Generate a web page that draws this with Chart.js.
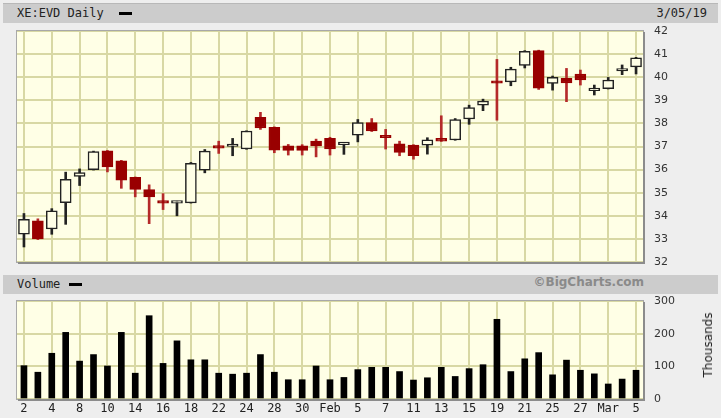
<!DOCTYPE html>
<html>
<head>
<meta charset="utf-8">
<script src="https://cdn.jsdelivr.net/npm/chart.js@4"></script>
<style>
  body { margin: 0; width: 721px; height: 418px; overflow: hidden; background: #eeeeee; position: relative; font-family: 'DejaVu Sans Mono', monospace; }
  .bar { position: absolute; left: 3px; width: 715px; height: 19px; background: #cccccc; line-height: 19px; font-size: 12px; color: #222; }
  .bar span { position: absolute; top: 0; }
  .key { position: absolute; width: 13px; height: 3px; background: #000; }
  canvas { position: absolute; left: 0; }
  #thousands { position: absolute; left: 708px; top: 345px; transform: translate(-50%, -50%) rotate(-90deg); font: 12px 'DejaVu Sans', sans-serif; color: #222; white-space: nowrap; }
</style>
</head>
<body>
<div class="bar" style="top:3px; border-top:1px solid #b8b8b8;">
  <span style="left:14px;">XE:EVD Daily</span>
  <div class="key" style="left:116px; top:8px;"></div>
  <span style="right:11px;">3/05/19</span>
</div>
<div class="bar" style="top:275px;">
  <span style="left:14px;">Volume</span>
  <div class="key" style="left:66px; top:8px;"></div>
  <span style="right:74px; font: bold 12px 'DejaVu Sans', sans-serif; color:#8a8a8a;">©BigCharts.com</span>
</div>
<canvas id="priceChart" width="721" height="272" style="top:0;"></canvas>
<canvas id="volumeChart" width="721" height="125" style="top:293px;"></canvas>
<div id="thousands">Thousands</div>

<script>
// trading days, Jan 2 - Mar 5 2019
const dates = ['2','3','4','7','8','9','10','11','14','15','16','17','18','21','22','23','24','25','28','29','30','31',
  'Feb','4','5','6','7','8','11','12','13','14','15','18','19','20','21','22','25','26','27','28',
  'Mar','4','5'];

const open  = [33.20,33.78,33.43,34.57,35.71,36.00,36.81,36.38,35.66,35.14,34.58,34.55,34.56,35.98,36.97,37.00,36.89,38.26,37.83,37.03,37.03,37.23,37.35,
  37.08,37.49,38.04,37.42,37.12,37.06,37.06,37.35,37.28,38.19,38.79,39.78,39.80,40.51,41.15,39.73,39.95,40.14,39.42,39.50,40.27,40.45];
const high  = [34.10,33.87,34.31,35.89,36.03,36.80,36.83,36.40,35.68,35.34,34.96,34.63,36.31,36.87,37.23,37.35,37.68,38.48,37.85,37.09,37.08,37.32,37.40,
  37.12,38.17,38.21,37.74,37.23,37.08,37.38,38.33,38.21,38.79,39.05,40.77,40.43,41.15,41.17,40.05,40.38,40.31,39.66,39.99,40.53,40.86];
const low   = [32.65,32.97,33.20,33.63,35.31,35.98,35.90,35.19,34.82,33.66,34.27,34.00,34.55,35.86,36.70,36.60,36.88,37.74,36.73,36.63,36.63,36.55,36.63,
  36.66,37.20,37.65,36.89,36.60,36.45,36.67,37.22,37.27,37.96,38.55,38.14,39.63,40.40,39.47,39.44,38.94,39.66,39.23,39.49,40.11,40.14];
const close = [33.85,33.00,34.21,35.58,35.87,36.78,36.12,35.54,35.14,34.82,34.55,34.57,36.27,36.80,36.93,37.04,37.67,37.80,36.84,36.83,36.83,37.03,36.89,
  37.10,38.04,37.67,37.38,36.74,36.60,37.29,37.23,38.16,38.68,38.97,39.74,40.35,41.12,39.52,39.99,39.75,39.88,39.45,39.88,40.29,40.84];

// thousands of shares
const volume = [102,82,140,204,116,136,101,204,79,255,109,178,120,120,79,76,79,136,82,59,59,101,59,66,90,
  97,97,84,58,65,97,69,93,105,244,84,123,142,74,119,88,77,46,61,88];

const priceTicks = [32,33,34,35,36,37,38,39,40,41,42];
const volumeTicks = [0,100,200,300];

const upColor = '#222222';
const downColor = '#990000';
const gridColor = '#d8d8a4';
const plotBg = '#ffffe6';

const isUp = close.map((c, i) => c >= open[i]);

// yellow background and framed plot area
const plotFrame = {
  id: 'plotFrame',
  beforeDraw(chart) {
    const a = chart.chartArea, ctx = chart.ctx;
    ctx.save();
    ctx.fillStyle = plotBg;
    ctx.fillRect(a.left, a.top, a.right - a.left, a.bottom - a.top);
    ctx.restore();
  },
  afterDraw(chart) {
    const a = chart.chartArea, ctx = chart.ctx;
    ctx.save();
    ctx.strokeStyle = '#a8a8a8';
    ctx.lineWidth = 1;
    ctx.strokeRect(a.left - 0.5, a.top - 0.5, a.right - a.left + 1, a.bottom - a.top + 1);
    ctx.strokeStyle = '#8c8c8c';
    ctx.lineWidth = 2;
    ctx.beginPath();
    ctx.moveTo(a.right + 1, a.top + 1);
    ctx.lineTo(a.right + 1, a.bottom + 1);
    ctx.lineTo(a.left + 1, a.bottom + 1);
    ctx.stroke();
    ctx.restore();
  }
};

function xScale(showLabels, height) {
  return {
    type: 'category',
    offset: true,
    grid: {
      offset: false,
      drawTicks: false,
      lineWidth: 2,
      color: c => (c.index % 2 === 0 ? gridColor : 'rgba(0,0,0,0)')
    },
    border: { display: false },
    ticks: {
      display: showLabels,
      autoSkip: false,
      maxRotation: 0,
      padding: 3,
      color: '#222',
      font: { family: 'DejaVu Sans Mono', size: 12 },
      callback: (v, i) => (i % 2 === 0 ? dates[i] : '')
    },
    afterFit: s => { s.height = height; s.paddingLeft = 0; s.paddingRight = 0; }
  };
}

function yScale(min, max, step, tickList) {
  return {
    position: 'right',
    min: min,
    max: max,
    grid: { drawTicks: false, lineWidth: 2, color: gridColor },
    border: { display: false },
    afterBuildTicks: s => { s.ticks = tickList.map(v => ({ value: v })); },
    ticks: {
      stepSize: step,
      padding: 11,
      color: '#333',
      font: { family: 'DejaVu Sans', size: 11 }
    },
    // fixed width, and no extra room kept for the end labels
    afterFit: s => { s.width = 78; s.paddingTop = 0; s.paddingBottom = 0; }
  };
}

new Chart(document.getElementById('priceChart'), {
  type: 'bar',
  data: {
    labels: dates,
    datasets: [{
      label: 'wick',
      data: low.map((l, i) => [l, high[i]]),
      backgroundColor: isUp.map(u => (u ? upColor : '#b52a2a')),
      barThickness: 2,
      grouped: false,
      order: 1
    }, {
      label: 'body',
      data: open.map((o, i) => [o, close[i]]),
      backgroundColor: isUp.map(u => (u ? plotBg : downColor)),
      borderColor: isUp.map(u => (u ? upColor : downColor)),
      borderWidth: 1.5,
      borderSkipped: false,
      barThickness: 11,
      minBarLength: 2.5,
      grouped: false,
      order: 0
    }]
  },
  options: {
    responsive: false,
    animation: false,
    layout: { padding: { left: 17, top: 31, right: 0, bottom: 10 } },
    plugins: { legend: { display: false }, tooltip: { enabled: false } },
    scales: {
      x: xScale(false, 0),
      y: yScale(32, 42, 1, priceTicks)
    }
  },
  plugins: [plotFrame]
});

new Chart(document.getElementById('volumeChart'), {
  type: 'bar',
  data: {
    labels: dates,
    datasets: [{
      label: 'Volume',
      data: volume,
      backgroundColor: '#000',
      barThickness: 6
    }]
  },
  options: {
    responsive: false,
    animation: false,
    layout: { padding: { left: 17, top: 8, right: 0, bottom: 0 } },
    plugins: { legend: { display: false }, tooltip: { enabled: false } },
    scales: {
      x: xScale(true, 19),
      y: yScale(0, 300, 100, volumeTicks)
    }
  },
  plugins: [plotFrame]
});
</script>
</body>
</html>
